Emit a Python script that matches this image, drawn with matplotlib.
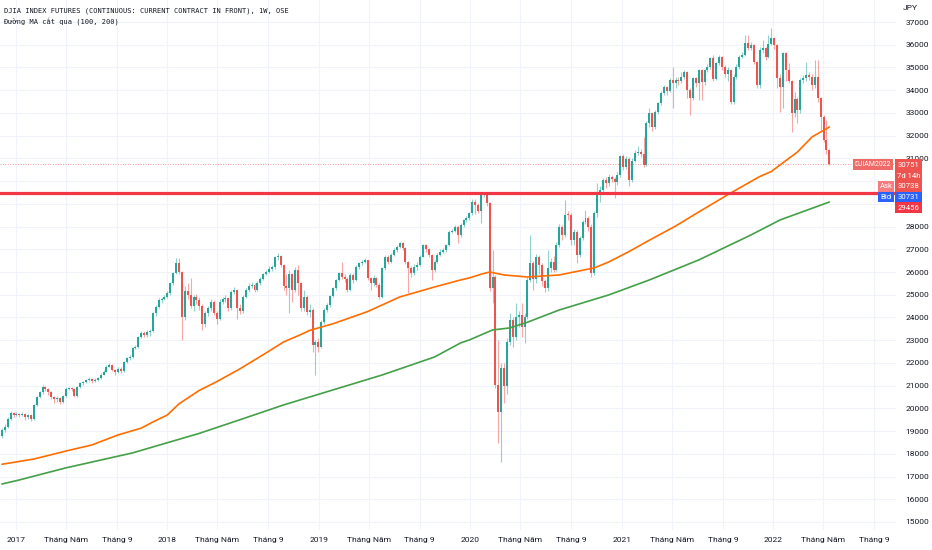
import matplotlib
matplotlib.use("Agg")
import matplotlib.pyplot as plt
import matplotlib.dates as mdates
from matplotlib.patches import Rectangle
import datetime as dt

W, H, DPI = 932, 550, 100

# ---------------- data ----------------
start_date = dt.date(2016, 11, 28)   # first weekly candle
first_open = 18800

closes = [
    19050, 19200, 19550, 19800, 19700, 19750, 19700, 19760, 19600, 19700,
    19550, 20150, 20500, 20700, 20950, 20850, 20700, 20500, 20400, 20450,
    20300, 20550, 20870, 20900, 20850, 20550, 20950, 21100, 21150, 21250,
    21300, 21200, 21250, 21330, 21480, 21620, 21830, 21900, 21700, 21600,
    21750, 21650, 22050, 22200, 22250, 22640, 22700, 23150, 23300, 23250,
    23350, 23400, 24200, 24450, 24770, 24800, 24900, 25060, 25500, 25940,
    26380, 26010, 24000, 25150, 25000, 24500, 24900, 24750, 24500, 23700,
    24180, 24400, 24700, 24200, 23950, 24700, 24800, 24850, 24400, 25100,
    25200, 24400, 24300, 24900, 25200, 25400, 25450, 25200, 25500, 25700,
    25900, 26000, 26150, 26200, 26650, 26700, 26300, 25400, 25300, 25900,
    25200, 26100, 25500, 24400, 24900, 24250, 24330, 22790, 22900, 22710,
    23810, 24320, 24550, 24940, 25280, 25650, 25940, 25800, 25700, 25200,
    25860, 25650, 26230, 26380, 26450, 26530, 25720, 25500, 25720, 25450,
    24900, 26160, 26680, 26460, 26750, 26970, 27100, 27260, 27060, 26450,
    26160, 25940, 26230, 26300, 26680, 27190, 27000, 26750, 26100, 26450,
    26750, 26900, 26970, 27190, 27780, 27800, 27990, 27630, 28070, 28290,
    28360, 28580, 29100, 28950, 28700, 29380, 29460, 29020, 25280, 25760,
    21030, 19850, 21760, 21000, 22930, 23900, 23150, 24000, 24100, 23600,
    24030, 25650, 26380, 25700, 26670, 26300, 25600, 25280, 26160, 26450,
    26100, 27190, 27990, 27630, 28510, 28500, 27400, 27770, 26750, 27480,
    28210, 28360, 27990, 25940, 28580, 29450, 29600, 30050, 29900, 30180,
    30100, 29950, 30270, 31100, 30640, 30990, 30050, 30900, 31220, 31300,
    31200, 30700, 32540, 32980, 32400, 33050, 33420, 33860, 34150, 33950,
    34450, 34300, 34450, 34400, 34590, 34810, 34010, 33640, 34520, 34300,
    34890, 34370, 34890, 35030, 35400, 34500, 35180, 35470, 35030, 34700,
    34900, 33490, 34590, 35030, 35470, 35550, 36060, 35840, 35990, 35250,
    34230, 35770, 35850, 35480, 36050, 36280, 35990, 34520, 34160, 35620,
    34900, 34400, 32980, 33600, 33120, 34450, 34520, 34670, 34590, 34230,
    34580, 33640, 32840, 31800, 31360, 30751,
]

highs = [
    19150, 19300, 19600, 19900, 19850, 19850, 19800, 19850, 19800, 19750,
    19750, 20200, 20550, 20750, 21050, 21000, 20900, 20750, 20550, 20550,
    20500, 20600, 20950, 20950, 20950, 20900, 21000, 21150, 21200, 21300,
    21400, 21350, 21350, 21400, 21550, 21700, 21900, 22000, 21950, 21750,
    21800, 21800, 22100, 22250, 22350, 22700, 22800, 23200, 23400, 23400,
    23450, 23500, 24250, 24550, 24850, 24900, 25000, 25150, 25550, 26000,
    26600, 26600, 26050, 25400, 25500, 25720, 25000, 25050, 24900, 24600,
    24300, 24500, 24800, 24750, 24300, 24800, 24900, 25000, 24900, 25200,
    25350, 25250, 24600, 25000, 25300, 25500, 25550, 25500, 25600, 25800,
    25950, 26100, 26250, 26300, 26700, 26850, 26750, 26350, 25900, 26100,
    25950, 26200, 26300, 25550, 25200, 25000, 24600, 24400, 23000, 23100,
    23900, 24400, 24650, 25000, 25350, 25700, 26000, 26450, 25900, 25800,
    25950, 25950, 26300, 26450, 26550, 26600, 26550, 25800, 25850, 25800,
    25500, 26200, 26750, 26750, 26850, 27050, 27200, 27330, 27300, 27100,
    26500, 26250, 26350, 26450, 26750, 27250, 27250, 27050, 26800, 26550,
    26850, 27000, 27050, 27250, 27850, 27900, 28050, 28050, 28150, 28350,
    28450, 28650, 29200, 29200, 29050, 29450, 29530, 29460, 29100, 26970,
    25870, 23000, 22000, 22000, 23100, 24200, 24000, 24620, 24300, 24620,
    24200, 25800, 27630, 26500, 26800, 26750, 26400, 25700, 26970, 26600,
    26700, 27300, 28100, 28050, 29170, 28700, 28600, 27900, 27850, 27600,
    28300, 28730, 28450, 28100, 28700, 29900, 29800, 30150, 30200, 30300,
    30250, 30200, 30400, 31150, 31200, 31100, 31050, 31000, 31350, 31550,
    31400, 31950, 32650, 33200, 33050, 33150, 33500, 33950, 34250, 34200,
    34550, 35000, 34600, 34600, 34800, 34900, 34850, 34100, 34600, 34600,
    34950, 34950, 34950, 35150, 35450, 35550, 35250, 35550, 35500, 35100,
    35000, 34950, 34700, 35150, 35550, 35700, 36430, 36430, 36100, 36050,
    35300, 35910, 36210, 35900, 36430, 36720, 36350, 36050, 34700, 35700,
    35700, 35200, 34450, 33900, 33700, 34550, 34650, 35250, 34800, 34700,
    35330, 35330, 33700, 32900, 32700, 31400,
]

lows = [
    18700, 18950, 19150, 19500, 19600, 19650, 19600, 19650, 19500, 19550,
    19450, 19500, 20100, 20450, 20650, 20750, 20600, 20400, 20250, 20300,
    20200, 20250, 20500, 20800, 20750, 20500, 20500, 20900, 21050, 21100,
    21200, 21100, 21150, 21200, 21300, 21450, 21600, 21800, 21650, 21450,
    21550, 21550, 21600, 22000, 22150, 22200, 22600, 22650, 23100, 23150,
    23150, 23200, 23350, 24050, 24400, 24650, 24750, 24850, 25000, 25450,
    25900, 25900, 23000, 23900, 24800, 24400, 24300, 24600, 24350, 23450,
    23600, 24050, 24300, 24100, 23700, 23900, 24600, 24700, 24300, 24350,
    25050, 23950, 24150, 24200, 24850, 25100, 25300, 25100, 25150, 25450,
    25650, 25850, 25950, 26050, 26150, 26550, 26200, 25200, 25000, 24200,
    24700, 25100, 25000, 24300, 24300, 24100, 24000, 22500, 21460, 22500,
    22650, 23700, 24250, 24450, 24900, 25200, 25600, 25700, 25550, 25100,
    25150, 25500, 25600, 26150, 26300, 26400, 25650, 25200, 25400, 25350,
    24800, 24850, 26100, 26350, 26400, 26700, 26900, 27050, 26950, 26350,
    25060, 25800, 25850, 26100, 26250, 26650, 26900, 26650, 25650, 26000,
    26400, 26700, 26850, 26900, 27150, 27700, 27750, 27260, 27550, 28000,
    28200, 28300, 28500, 28550, 28600, 28150, 29300, 28900, 25150, 24620,
    20900, 18460, 17650, 20220, 20650, 22800, 22700, 23000, 23600, 23150,
    22860, 23950, 25550, 25200, 25500, 25900, 25400, 25100, 25150, 26000,
    26000, 26050, 27100, 27400, 27550, 28300, 27200, 27200, 26380, 26650,
    27400, 28100, 27800, 25800, 25850, 28400, 29100, 29450, 29700, 29800,
    29950, 29240, 29850, 30200, 30500, 30550, 29800, 29950, 30850, 31150,
    31050, 30600, 30650, 32400, 32200, 32300, 32950, 33350, 33800, 33800,
    33900, 33200, 34100, 34250, 34300, 34500, 33650, 32900, 33550, 34150,
    33570, 33570, 34250, 34800, 34950, 34400, 34450, 35100, 34900, 34600,
    34400, 33400, 33400, 34500, 34950, 35400, 35500, 35750, 35750, 35150,
    34080, 34080, 35650, 35350, 35400, 36000, 35800, 34080, 33050, 33200,
    34400, 34300, 32180, 32800, 32540, 33000, 34300, 34400, 34450, 34000,
    34100, 33500, 32250, 31700, 31200, 30700,
]

# moving averages read at selected weeks (week index, value)
ma100_weeks = [0, 11, 22, 31, 40, 48, 52, 57, 61, 68, 74, 82, 90, 97, 103, 106,
               114, 126, 137, 149, 158, 161, 165, 168, 173, 181, 192, 204, 209,
               216, 223, 232, 240, 251, 261, 265, 268, 274, 279, 285]
ma100_values = [17540, 17770, 18120, 18390, 18830, 19130, 19400, 19710, 20200,
                20790, 21175, 21740, 22360, 22920, 23250, 23430, 23720, 24260,
                24900, 25340, 25650, 25740, 25900, 26000, 25870, 25780, 25870,
                26180, 26440, 26900, 27400, 28020, 28640, 29476, 30200, 30420,
                30710, 31280, 31940, 32380]
ma200_weeks = [0, 6, 22, 45, 68, 82, 97, 114, 131, 149, 158, 161, 165, 169, 175,
               181, 192, 209, 223, 240, 258, 268, 285]
ma200_values = [16670, 16850, 17380, 18040, 18900, 19500, 20150, 20810, 21470,
                22260, 22880, 23010, 23230, 23450, 23540, 23790, 24330, 24990,
                25650, 26530, 27630, 28290, 29080]

tick_dates = ["2017-01-01", "2017-05-01", "2017-09-01",
              "2018-01-01", "2018-05-01", "2018-09-01",
              "2019-01-01", "2019-05-01", "2019-09-01",
              "2020-01-01", "2020-05-01", "2020-09-01",
              "2021-01-01", "2021-05-01", "2021-09-01",
              "2022-01-01", "2022-05-01", "2022-09-01"]
tick_labels = ["2017", "Tháng Năm", "Tháng 9",
               "2018", "Tháng Năm", "Tháng 9",
               "2019", "Tháng Năm", "Tháng 9",
               "2020", "Tháng Năm", "Tháng 9",
               "2021", "Tháng Năm", "Tháng 9",
               "2022", "Tháng Năm", "Tháng 9"]

price_ticks = list(range(15000, 38000, 1000))
hidden_price_labels = [29000, 30000]   # covered by the price tags in the reference
level_price = 29456
last_price = 30751
ask_price = 30738
bid_price = 30731
symbol = "DJIAM2022"
countdown = "7d 14h"
title_line1 = "DJIA INDEX FUTURES (CONTINUOUS: CURRENT CONTRACT IN FRONT), 1W, OSE"
title_line2 = "Đường MA cắt qua (100, 200)"

# ---------------- styling ----------------
UP = "#26a69a"
DOWN = "#ef5350"
GRID = "#f0f3fa"
TXT = "#131722"
MONO = ["DejaVu Sans Mono", "DejaVu Sans", "Noto Sans"]

plt.rcParams["font.family"] = ["Roboto", "DejaVu Sans"]

fig = plt.figure(figsize=(W / DPI, H / DPI), dpi=DPI)
fig.patch.set_facecolor("white")

PANE_R = 896
PANE_B = 530
ax = fig.add_axes([0, (H - PANE_B) / H, PANE_R / W, PANE_B / H])
ax.set_facecolor("white")
for s in ax.spines.values():
    s.set_visible(False)

base = mdates.date2num(dt.datetime(2017, 1, 1))
px_per_day = 151.5 / 365.25
x_left = base - 16 / px_per_day
x_right = base + (PANE_R - 16) / px_per_day
px_per_price = 1 / 44.0
y_top = 37000 + 22 / px_per_price
y_bot = 37000 - (PANE_B - 22) / px_per_price
ax.set_xlim(x_left, x_right)
ax.set_ylim(y_bot, y_top)

n = len(closes)
xs = [mdates.date2num(dt.datetime.combine(start_date, dt.time()) + dt.timedelta(weeks=i)) for i in range(n)]
opens = [first_open] + closes[:-1]

# grid
tick_pos = [mdates.date2num(dt.datetime.strptime(d, "%Y-%m-%d")) for d in tick_dates]
for tp in tick_pos:
    ax.axvline(tp, color=GRID, lw=0.8, zorder=0)
for p in price_ticks:
    ax.axhline(p, color=GRID, lw=0.8, zorder=0)

# candles
body_w = 4.8  # days
for x, o, c, hi, lo in zip(xs, opens, closes, highs, lows):
    col = UP if c >= o else DOWN
    ax.vlines(x, lo, hi, color=col, alpha=0.5, lw=0.8, zorder=2)
    bottom = min(o, c)
    height = max(abs(c - o), 40)
    ax.bar(x, height, width=body_w, bottom=bottom, color=col, edgecolor="none", zorder=3)

# moving averages
ma100_x = [xs[i] for i in ma100_weeks]
ma200_x = [xs[i] for i in ma200_weeks]
ax.plot(ma100_x, ma100_values, color="#ff6d00", lw=1.2, zorder=4, solid_capstyle="round",
        solid_joinstyle="round")
ax.plot(ma200_x, ma200_values, color="#43a047", lw=1.2, zorder=4, solid_capstyle="round",
        solid_joinstyle="round")

# horizontal level and last price line
ax.axhline(level_price, color="#f23645", lw=2.3, zorder=5)
ax.axhline(last_price, color=DOWN, lw=0.6, ls=(0, (1, 2)), alpha=0.8, zorder=1)

# axes ticks
ax.set_xticks(tick_pos)
ax.set_xticklabels(tick_labels)
ax.tick_params(axis="x", length=0, pad=5, labelsize=6, colors=TXT)
ax.yaxis.tick_right()
ax.set_yticks(price_ticks)
ax.set_yticklabels(["" if p in hidden_price_labels else str(p) for p in price_ticks])
ax.tick_params(axis="y", length=0, pad=7, labelsize=6, colors=TXT)

# titles
fig.text(4 / W, 1 - 11 / H, title_line1, fontsize=5.0, family=MONO,
         color=TXT, ha="left", va="center")
fig.text(4 / W, 1 - 22 / H, title_line2, fontsize=5.0, family=MONO,
         color=TXT, ha="left", va="center")
fig.text(903 / W, 1 - 8 / H, "JPY", fontsize=6, color=TXT, ha="left", va="center")


def tag(x0, y0, x1, y1, fc, lines, tc="white", fs=5.6):
    fig.add_artist(Rectangle((x0 / W, 1 - y1 / H), (x1 - x0) / W, (y1 - y0) / H,
                             transform=fig.transFigure, facecolor=fc,
                             edgecolor="none", zorder=5))
    nl = len(lines)
    for k, t in enumerate(lines):
        yc = y0 + (y1 - y0) * (k + 0.5) / nl
        fig.text((x0 + x1) / 2 / W, 1 - yc / H, t, color=tc, fontsize=fs,
                 ha="center", va="center", zorder=6)


y_last = 22 + (37000 - last_price) / 44.0
t0 = y_last - 5.0
tag(853, t0, 893, t0 + 11, "#f06a68", [symbol], fs=5.0)
tag(895, t0, 922, t0 + 22, DOWN, [str(last_price), countdown])
tag(878, t0 + 22, 894, t0 + 32.5, "#f77c80", ["Ask"])
tag(895, t0 + 22, 922, t0 + 32.5, DOWN, [str(ask_price)])
tag(878, t0 + 32.5, 894, t0 + 43, "#2962ff", ["Bid"])
tag(895, t0 + 32.5, 922, t0 + 43, "#2962ff", [str(bid_price)])
tag(895, t0 + 43, 922, t0 + 54, "#f23645", [str(level_price)])

fig.savefig("out.png", dpi=DPI, facecolor="white")
